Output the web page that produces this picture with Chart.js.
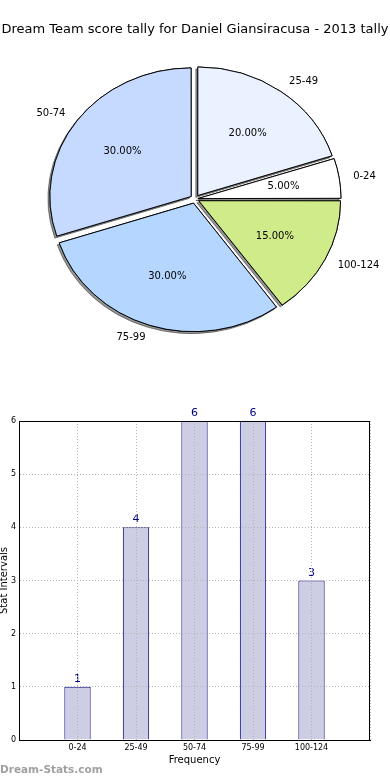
<!DOCTYPE html>
<html><head><meta charset="utf-8">
<script src="https://cdn.jsdelivr.net/npm/chart.js@4/dist/chart.umd.min.js"></script>
<style>
html,body{margin:0;padding:0;background:#fff;}
#wrap{position:relative;width:390px;height:780px;overflow:hidden;background:#fff;}
#pieBox{position:absolute;left:0;top:0;width:390px;height:380px;}
#barBox{position:absolute;left:0;top:380px;width:390px;height:400px;}
</style></head><body>
<div id="wrap">
  <div id="pieBox"><canvas id="pie" width="390" height="380"></canvas></div>
  <div id="barBox"><canvas id="bar" width="390" height="400"></canvas></div>
</div>
<script>
// ---- data ----
const titleText = 'Dream Team score tally for Daniel Giansiracusa - 2013 tally';
const categories = ['0-24', '25-49', '50-74', '75-99', '100-124'];
const counts = [1, 4, 6, 6, 3];
const pieColors = ['#ffffff', '#ebf2ff', '#c6d9ff', '#b5d6ff', '#d0eb8a'];
const yTicks = [0, 1, 2, 3, 4, 5, 6];
const xAxisTitle = 'Frequency';
const yAxisTitle = 'Stat Intervals';
const watermark = 'Dream-Stats.com';

const FONT = "'DejaVu Sans', sans-serif";
const total = counts.reduce((a, b) => a + b, 0);

// matplotlib draws counter-clockwise from 3 o'clock; Chart.js draws clockwise -> reverse order
const pieLabels = categories.slice().reverse();
const pieValues = counts.slice().reverse();
const pieFill = pieColors.slice().reverse();

const ELL = 0.91;   // vertical squash (non-equal aspect pie)
const EXPL = 5;     // explode distance in px

function ellipseTransform(chart) {
  const a = chart.chartArea, ctx = chart.ctx;
  const cx = (a.left + a.right) / 2, cy = (a.top + a.bottom) / 2;
  ctx.translate(cx, cy); ctx.scale(1, ELL); ctx.translate(-cx, -cy);
}

const piePlugin = {
  id: 'piePlugin',
  beforeDatasetsDraw(chart) {
    const ctx = chart.ctx, meta = chart.getDatasetMeta(0);
    ctx.save();
    ellipseTransform(chart);
    ctx.shadowColor = 'rgba(0,0,0,0.42)';
    ctx.shadowOffsetX = -2; ctx.shadowOffsetY = 2; ctx.shadowBlur = 0;
    meta.data.forEach(a => a.draw(ctx));
    ctx.restore();
    ctx.save();
    ellipseTransform(chart);
  },
  afterDatasetsDraw(chart) {
    const ctx = chart.ctx, meta = chart.getDatasetMeta(0);
    ctx.restore();
    ctx.save();
    ctx.fillStyle = '#000';
    ctx.font = '10px ' + FONT;
    ctx.textBaseline = 'middle';
    meta.data.forEach((arc, i) => {
      const p = arc.getProps(['x', 'y', 'startAngle', 'endAngle', 'outerRadius'], true);
      const mid = (p.startAngle + p.endAngle) / 2, c = Math.cos(mid), s = Math.sin(mid);
      const lr = EXPL + 1.1 * p.outerRadius;
      ctx.textAlign = c > 0 ? 'left' : 'right';
      ctx.fillText(pieLabels[i], p.x + lr * c, p.y + lr * s * ELL);
      const pr = EXPL + 0.6 * p.outerRadius;
      ctx.textAlign = 'center';
      ctx.fillText((pieValues[i] / total * 100).toFixed(2) + '%', p.x + pr * c, p.y + pr * s * ELL);
    });
    ctx.restore();
  }
};

new Chart(document.getElementById('pie'), {
  type: 'pie',
  data: {
    labels: pieLabels,
    datasets: [{
      data: pieValues,
      backgroundColor: pieFill,
      borderColor: '#000',
      borderWidth: 1,
      clip: false,
      offset: (ctx) => {
        const v = ctx.dataset.data[ctx.dataIndex];
        const circ = 2 * Math.PI * v / total;
        const fix = 1 - Math.sin(Math.min(Math.PI, circ));
        return 4 * EXPL / (1 + fix);
      }
    }]
  },
  options: {
    responsive: false,
    animation: false,
    devicePixelRatio: 1,
    rotation: 90,
    radius: 141,
    events: [],
    layout: { padding: { left: 0, right: 0, top: 0, bottom: 29.6 } },
    plugins: {
      legend: { display: false },
      tooltip: { enabled: false },
      title: {
        display: true, text: titleText, color: '#000',
        font: { family: FONT, size: 13, weight: 'normal' },
        padding: { top: 22, bottom: 10 }
      }
    }
  },
  plugins: [piePlugin]
});

// ---- bar chart ----
const barPlugin = {
  id: 'barPlugin',
  afterDatasetsDraw(chart) {
    const ctx = chart.ctx, meta = chart.getDatasetMeta(0);
    ctx.save();
    ctx.fillStyle = '#000080';
    ctx.font = '11px ' + FONT;
    ctx.textAlign = 'center';
    ctx.textBaseline = 'alphabetic';
    meta.data.forEach((bar, i) => {
      ctx.fillText(String(counts[i]), bar.x, bar.y - 5);
    });
    ctx.restore();
  },
  afterDraw(chart) {
    const ctx = chart.ctx, a = chart.chartArea;
    ctx.save();
    ctx.strokeStyle = '#000'; ctx.lineWidth = 1;
    ctx.strokeRect(Math.round(a.left) + 0.5, Math.round(a.top) + 0.5,
      Math.round(a.right - a.left) - 1, Math.round(a.bottom - a.top));
    ctx.fillStyle = '#000';
    ctx.font = '10px ' + FONT;
    ctx.textAlign = 'center'; ctx.textBaseline = 'middle';
    ctx.fillText(xAxisTitle, (a.left + a.right) / 2, 380);
    ctx.save();
    ctx.translate(4, (a.top + a.bottom) / 2);
    ctx.rotate(-Math.PI / 2);
    ctx.fillText(yAxisTitle, 0, 0);
    ctx.restore();
    ctx.fillStyle = '#a0a0a0';
    ctx.font = 'bold 10.5px ' + FONT;
    ctx.textAlign = 'left';
    ctx.fillText(watermark, 0, 390);
    ctx.restore();
  }
};

const gridCommon = { color: '#b4b4b4', lineWidth: 1, drawTicks: false, z: 1, offset: false };
const borderCommon = { display: true, color: '#000', width: 1, dash: [1, 2], z: 2 };

new Chart(document.getElementById('bar'), {
  type: 'bar',
  data: {
    datasets: [{
      data: categories.map((c, i) => ({ x: i, y: counts[i] })),
      backgroundColor: '#cdcde4',
      borderColor: '#000080',
      borderWidth: 1,
      barPercentage: 0.45,
      categoryPercentage: 1
    }]
  },
  options: {
    responsive: false,
    animation: false,
    devicePixelRatio: 1,
    events: [],
    layout: { padding: { left: 0, right: 20, top: 41, bottom: 0 } },
    plugins: { legend: { display: false }, tooltip: { enabled: false } },
    scales: {
      x: {
        type: 'linear', min: -1, max: 5, offset: false,
        ticks: {
          stepSize: 1, autoSkip: false, maxRotation: 0, padding: 3, color: '#000',
          font: { family: FONT, size: 8 },
          callback: (v) => (categories[v] !== undefined ? categories[v] : '')
        },
        grid: gridCommon,
        border: borderCommon,
        afterFit: (s) => { s.height = 40; }
      },
      y: {
        min: 0, max: 6,
        afterBuildTicks: (s) => { s.ticks = yTicks.map(v => ({ value: v })); },
        ticks: { padding: 3, color: '#000', font: { family: FONT, size: 8 } },
        grid: gridCommon,
        border: borderCommon,
        afterFit: (s) => { s.width = 19; }
      }
    }
  },
  plugins: [barPlugin]
});
</script>
</body></html>
